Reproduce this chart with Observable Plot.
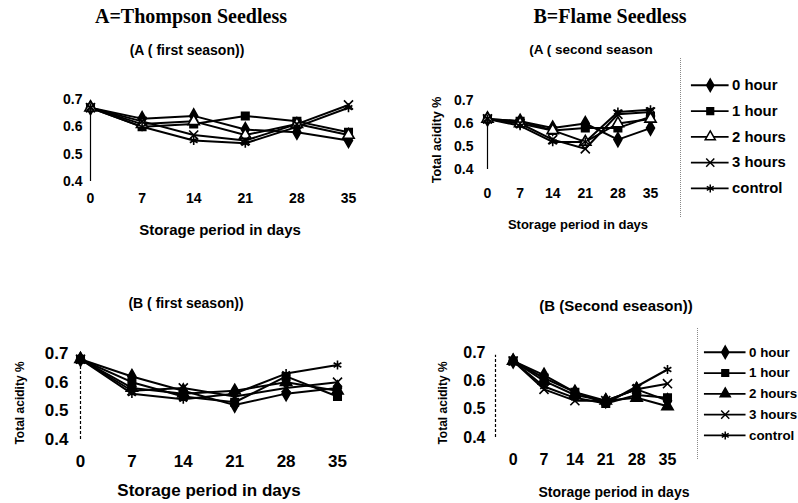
<!DOCTYPE html>
<html><head><meta charset="utf-8">
<script src="https://cdn.jsdelivr.net/npm/d3@7"></script>
<script src="https://cdn.jsdelivr.net/npm/@observablehq/plot@0.6"></script>
<style>
body{margin:0;background:#fff}
#c{position:relative;width:798px;height:503px;overflow:hidden;font-family:"Liberation Sans",Arial,sans-serif;font-weight:bold;color:#000}
.t{position:absolute;white-space:nowrap;transform:translate(-50%,-50%);line-height:1}
.r{transform:translate(-50%,-50%) rotate(-90deg)}
.p{position:absolute}
.serif{font-family:"Liberation Serif","Times New Roman",serif}
</style></head>
<body><div id="c"></div>
<script>
const days = [0, 7, 14, 21, 28, 35];
const treatments = ["0 hour", "1 hour", "2 hours", "3 hours", "control"];
const yTicks = [0.4, 0.5, 0.6, 0.7];
const symbols = ["diamond", "square", "triangle", "times", "asterisk"];

// A = Thompson Seedless, first season (rows in treatments order)
const aFirst = [
  [0.67, 0.63, 0.64, 0.59, 0.58, 0.55],
  [0.67, 0.60, 0.61, 0.64, 0.62, 0.58],
  [0.67, 0.61, 0.62, 0.57, 0.61, 0.57],
  [0.67, 0.62, 0.57, 0.55, 0.61, 0.68],
  [0.67, 0.60, 0.55, 0.54, 0.60, 0.67]
];
// A second season
const aSecond = [
  [0.62, 0.61, 0.58, 0.60, 0.53, 0.58],
  [0.62, 0.61, 0.57, 0.58, 0.58, 0.63],
  [0.62, 0.60, 0.57, 0.52, 0.60, 0.62],
  [0.62, 0.60, 0.53, 0.49, 0.64, 0.65],
  [0.62, 0.59, 0.52, 0.52, 0.65, 0.66]
];
// B = Flame Seedless, first season
const bFirst = [
  [0.68, 0.62, 0.57, 0.52, 0.56, 0.58],
  [0.68, 0.60, 0.55, 0.53, 0.62, 0.55],
  [0.68, 0.58, 0.56, 0.57, 0.60, 0.57],
  [0.68, 0.57, 0.58, 0.55, 0.58, 0.60],
  [0.68, 0.56, 0.54, 0.56, 0.63, 0.66]
];
// B second season
const bSecond = [
  [0.67, 0.62, 0.56, 0.53, 0.57, 0.53],
  [0.67, 0.61, 0.56, 0.52, 0.55, 0.54],
  [0.67, 0.60, 0.55, 0.53, 0.54, 0.51],
  [0.67, 0.57, 0.53, 0.53, 0.57, 0.59],
  [0.67, 0.58, 0.54, 0.52, 0.58, 0.64]
];

const C = document.getElementById("c");
function txt(s, x, y, size, extra = "") {
  const d = document.createElement("div");
  d.className = "t " + extra;
  d.textContent = s;
  d.style.left = x + "px"; d.style.top = y + "px"; d.style.fontSize = size + "px";
  C.appendChild(d);
  return d;
}
function place(el, left, top) {
  const d = document.createElement("div");
  d.className = "p"; d.style.left = left + "px"; d.style.top = top + "px";
  d.appendChild(el); C.appendChild(d);
  return d;
}

const mL = 50, mR = 12, mT = 10, mB = 40;
function panel({values, x0, x1, xMin = 0, yTop, yBot, tick, padX, padY, openTri, dash, axisTop}) {
  const rows = treatments.flatMap((t, i) => days.map((d, j) => ({day: d, value: values[i][j], treatment: t})));
  const chart = Plot.plot({
    width: mL + (x1 - x0) + mR, height: mT + (yBot - yTop) + mB,
    marginLeft: mL, marginRight: mR, marginTop: mT, marginBottom: mB,
    style: {fontFamily: "Liberation Sans, Arial, sans-serif", fontSize: tick + "px", fontWeight: "bold", color: "black", background: "transparent", overflow: "visible"},
    x: {domain: [xMin, 35], label: null},
    y: {domain: [0.4, 0.7], label: null},
    symbol: {domain: treatments, range: symbols},
    marks: [
      Plot.ruleX([xMin], {y1: 0.4, y2: axisTop, stroke: "black", strokeWidth: 1.2, strokeDasharray: dash}),
      Plot.axisY({ticks: yTicks, tickSize: 0, tickPadding: padY, tickFormat: d3.format(".1f"), label: null}),
      Plot.axisX({ticks: days, tickSize: 0, tickPadding: padX, tickFormat: d => d, label: null}),
      Plot.line(rows, {x: "day", y: "value", z: "treatment", stroke: "black", strokeWidth: 2}),
      Plot.dot(rows, {x: "day", y: "value", symbol: "treatment", r: 4.2, stroke: "black", strokeWidth: 1.6,
        fill: d => (openTri && d.treatment === "2 hours") ? "white" : "black"})
    ]
  });
  place(chart, x0 - mL, yTop - mT);
}

function legend({left, top, y0, y1, lx0, lx1, size, openTri, w, h}) {
  const chart = Plot.plot({
    width: w, height: h, margin: 0,
    style: {fontFamily: "Liberation Sans, Arial, sans-serif", fontSize: size + "px", fontWeight: "bold", color: "black", background: "transparent", overflow: "visible"},
    x: {domain: [0, 1], range: [lx0, lx1], axis: null},
    y: {type: "point", domain: treatments, range: [y0, y1], axis: null},
    symbol: {domain: treatments, range: symbols},
    marks: [
      Plot.ruleY(treatments, {y: d => d, x1: 0, x2: 1, stroke: "black", strokeWidth: 1.8}),
      Plot.dot(treatments, {x: 0.5, y: d => d, symbol: d => d, r: 3.8, stroke: "black", strokeWidth: 1.5,
        fill: d => (openTri && d === "2 hours") ? "white" : "black"}),
      Plot.text(treatments, {x: 1, y: d => d, text: d => d, textAnchor: "start", dx: 3})
    ]
  });
  const d = place(chart, left, top);
  d.style.borderLeft = "1px dotted #888";
}

// main titles
txt("A=Thompson Seedless", 191, 16, 20, "serif");
txt("B=Flame Seedless", 610, 16, 20, "serif");

// panel A first season
txt("(A ( first season))", 187, 50, 14);
panel({values: aFirst, x0: 90, x1: 348, yTop: 99, yBot: 181, tick: 14, padX: 12, padY: 8, openTri: true, dash: null, axisTop: 0.67});
txt("Storage period in days", 220, 229, 15);

// panel A second season
txt("(A ( second season", 591, 50, 13.5);
panel({values: aSecond, x0: 487, x1: 650, yTop: 100, yBot: 169, tick: 14, padX: 19, padY: 14, openTri: true, dash: null, axisTop: 0.64});
txt("Storage period in days", 578, 224, 13);
txt("Total acidity %", 437, 140, 12.5, "r");
legend({left: 680, top: 58, y0: 14, y1: 144, lx0: 10, lx1: 48, size: 15, openTri: true, w: 118, h: 160});

// panel B first season
txt("(B ( first season))", 186, 303, 14);
panel({values: bFirst, x0: 80, x1: 337, yTop: 353, yBot: 439, tick: 17, padX: 15, padY: 12, openTri: false, dash: "3,2", axisTop: 0.68});
txt("Storage period in days", 209, 490, 17);
txt("Total acidity %", 20, 403, 12, "r");

// panel B second season
txt("(B (Second eseason))", 616, 305, 15);
panel({values: bSecond, x0: 495, x1: 667, xMin: -4, yTop: 352, yBot: 437, tick: 16, padX: 16, padY: 10, openTri: false, dash: "3,2", axisTop: 0.69});
txt("Storage period in days", 614, 492, 14);
txt("Total acidity %", 443, 403, 12, "r");
legend({left: 697, top: 328, y0: 12, y1: 119, lx0: 6, lx1: 48, size: 13.5, openTri: false, w: 101, h: 132});
</script>
</body></html>
